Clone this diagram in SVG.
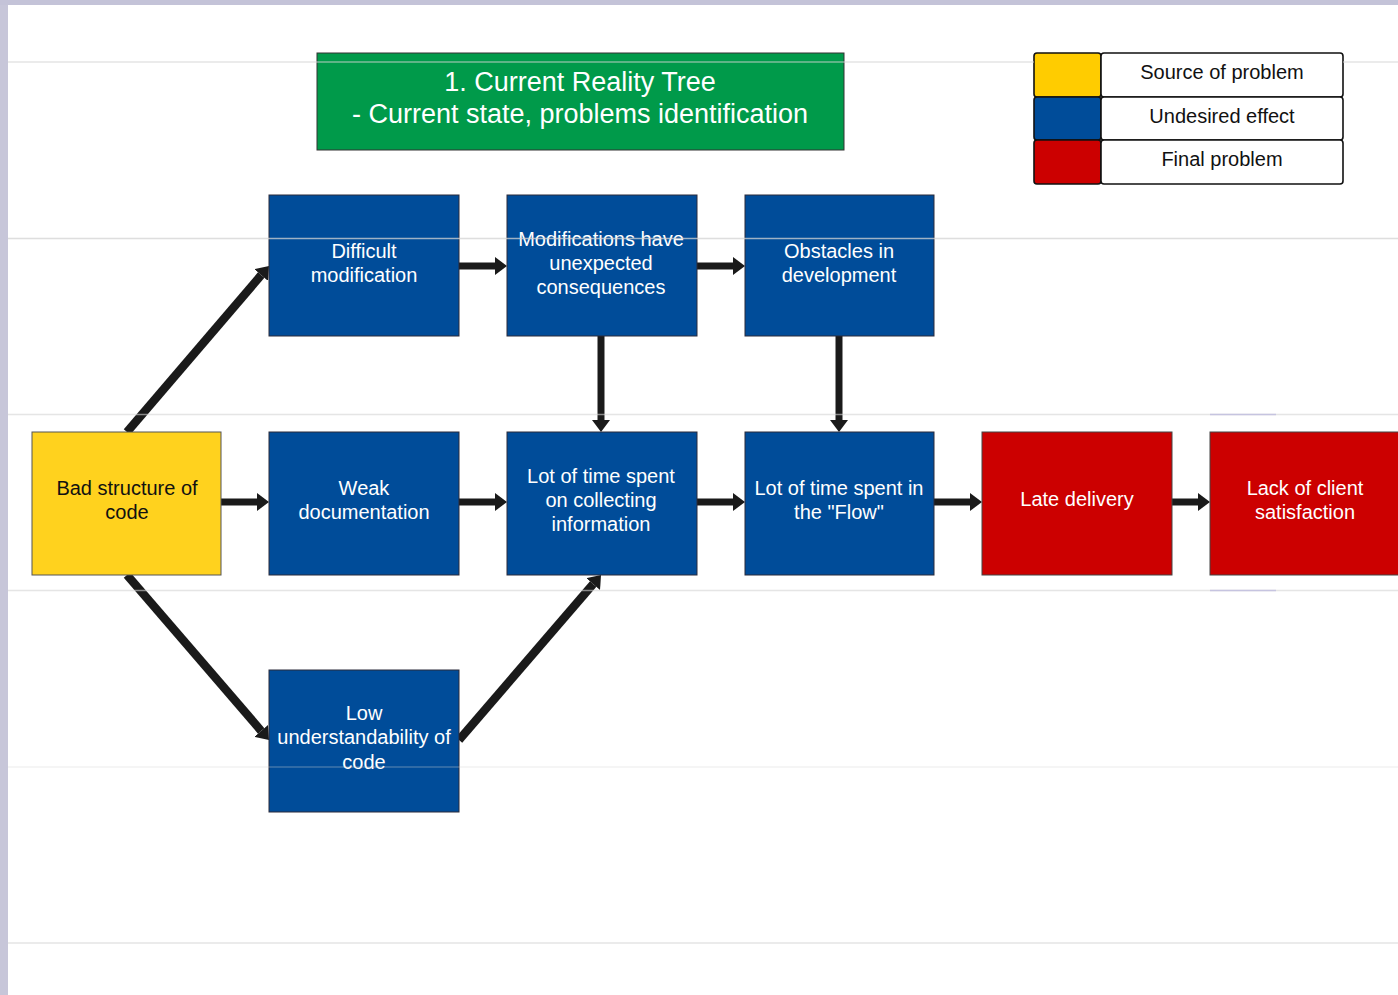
<svg xmlns="http://www.w3.org/2000/svg" width="1398" height="995" viewBox="0 0 1398 995">
<defs>
<style>
.t{font-family:"Liberation Sans",Arial,sans-serif;font-size:20px;text-anchor:middle;fill:#fff}
.dk{fill:#111}
.blue{fill:#004c99;stroke:#2a2a3a;stroke-width:1}
.yel{fill:#ffd21e;stroke:#555;stroke-width:1}
.red{fill:#cc0000;stroke:#444;stroke-width:1}
.lg{stroke:#111;stroke-width:1.6}
.c{stroke:#1a1a1a;stroke-width:7;fill:none;marker-end:url(#ah)}
.d{stroke-width:8.5}
.g{stroke:#d4d4d4;stroke-width:1.5;opacity:0.6}
</style>
<marker id="ah" markerUnits="userSpaceOnUse" viewBox="0 0 12 18" refX="0" refY="9" markerWidth="12" markerHeight="18" orient="auto">
<path d="M0,0 L12,9 L0,18 z" fill="#1a1a1a"/>
</marker>
</defs>
<rect x="0" y="0" width="1398" height="995" fill="#fff"/>
<rect x="0" y="0" width="8" height="995" fill="#c7c6d9"/>
<rect x="0" y="0" width="1398" height="5" fill="#c4c3d8"/>

<g id="title">
<rect x="317" y="53" width="527" height="97" fill="#009a4a" stroke="#333" stroke-width="1"/>
<text class="t" x="580" y="91" style="font-size:27px">1. Current Reality Tree</text>
<text class="t" x="580" y="123" style="font-size:27px">- Current state, problems identification</text>
</g>

<g id="legend">
<rect class="lg" x="1034" y="53" width="67" height="44" rx="3" fill="#ffcc00"/>
<rect class="lg" x="1034" y="97" width="67" height="43" rx="3" fill="#004c99"/>
<rect class="lg" x="1034" y="140" width="67" height="44" rx="3" fill="#cc0000"/>
<rect class="lg" x="1101" y="53" width="242" height="44" rx="3" fill="#fff"/>
<rect class="lg" x="1101" y="97" width="242" height="43" rx="3" fill="#fff"/>
<rect class="lg" x="1101" y="140" width="242" height="44" rx="3" fill="#fff"/>
<text class="t dk" x="1222" y="79">Source of problem</text>
<text class="t dk" x="1222" y="123">Undesired effect</text>
<text class="t dk" x="1222" y="166">Final problem</text>
</g>

<g id="connectors">
<line class="c" x1="459" y1="266" x2="495" y2="266"/>
<line class="c" x1="697" y1="266" x2="733" y2="266"/>
<line class="c" x1="601" y1="336" x2="601" y2="420"/>
<line class="c" x1="839" y1="336" x2="839" y2="420"/>
<line class="c" x1="221" y1="502" x2="257" y2="502"/>
<line class="c" x1="459" y1="502" x2="495" y2="502"/>
<line class="c" x1="697" y1="502" x2="733" y2="502"/>
<line class="c" x1="934" y1="502" x2="970" y2="502"/>
<line class="c" x1="1172" y1="502" x2="1198" y2="502"/>
<line class="c d" x1="127" y1="432" x2="261.2" y2="275.1"/>
<line class="c d" x1="127" y1="575" x2="261.2" y2="730.9"/>
<line class="c d" x1="459" y1="740" x2="593.2" y2="584.1"/>
</g>

<g id="n-difficult">
<rect class="blue" x="269" y="195" width="190" height="141"/>
<text class="t" x="364" y="258">Difficult</text>
<text class="t" x="364" y="282">modification</text>
</g>
<g id="n-modifications">
<rect class="blue" x="507" y="195" width="190" height="141"/>
<text class="t" x="601" y="246">Modifications have</text>
<text class="t" x="601" y="270">unexpected</text>
<text class="t" x="601" y="294">consequences</text>
</g>
<g id="n-obstacles">
<rect class="blue" x="745" y="195" width="189" height="141"/>
<text class="t" x="839" y="258">Obstacles in</text>
<text class="t" x="839" y="282">development</text>
</g>
<g id="n-bad">
<rect class="yel" x="32" y="432" width="189" height="143"/>
<text class="t dk" x="127" y="495">Bad structure of</text>
<text class="t dk" x="127" y="519">code</text>
</g>
<g id="n-weak">
<rect class="blue" x="269" y="432" width="190" height="143"/>
<text class="t" x="364" y="495">Weak</text>
<text class="t" x="364" y="519">documentation</text>
</g>
<g id="n-collecting">
<rect class="blue" x="507" y="432" width="190" height="143"/>
<text class="t" x="601" y="483">Lot of time spent</text>
<text class="t" x="601" y="507">on collecting</text>
<text class="t" x="601" y="531">information</text>
</g>
<g id="n-flow">
<rect class="blue" x="745" y="432" width="189" height="143"/>
<text class="t" x="839" y="495">Lot of time spent in</text>
<text class="t" x="839" y="519">the "Flow"</text>
</g>
<g id="n-late">
<rect class="red" x="982" y="432" width="190" height="143"/>
<text class="t" x="1077" y="506">Late delivery</text>
</g>
<g id="n-lack">
<rect class="red" x="1210" y="432" width="192" height="143"/>
<text class="t" x="1305" y="495">Lack of client</text>
<text class="t" x="1305" y="519">satisfaction</text>
</g>
<g id="n-low">
<rect class="blue" x="269" y="670" width="190" height="142"/>
<text class="t" x="364" y="720">Low</text>
<text class="t" x="364" y="744">understandability of</text>
<text class="t" x="364" y="769">code</text>
</g>

<g id="grid">
<line class="g" x1="8" y1="62" x2="1034" y2="62"/>
<line class="g" x1="1343" y1="62" x2="1398" y2="62"/>
<line class="g" x1="8" y1="238.5" x2="1398" y2="238.5" style="opacity:0.75"/>
<line class="g" x1="8" y1="414.5" x2="1398" y2="414.5"/>
<line class="g" x1="8" y1="590.5" x2="1398" y2="590.5"/>
<line class="g" x1="8" y1="767" x2="1398" y2="767" style="opacity:0.3"/>
<line class="g" x1="8" y1="943" x2="1398" y2="943"/>
<line x1="1210" y1="414.5" x2="1276" y2="414.5" stroke="#c6c4e0" stroke-width="1.5"/>
<line x1="1210" y1="590.5" x2="1276" y2="590.5" stroke="#c6c4e0" stroke-width="1.5"/>
</g>
</svg>
